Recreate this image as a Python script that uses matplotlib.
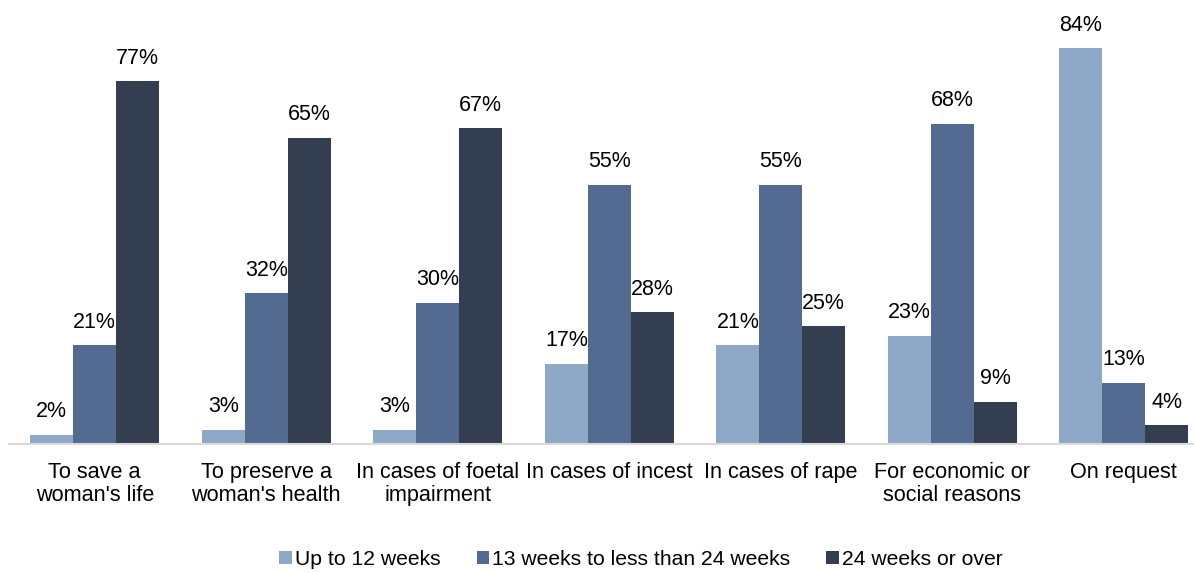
import numpy as np
import matplotlib.pyplot as plt

plt.rcParams['font.family'] = ['Liberation Sans', 'DejaVu Sans']

categories = ["To save a\nwoman's life", "To preserve a\nwoman's health",
              "In cases of foetal\nimpairment", "In cases of incest",
              "In cases of rape", "For economic or\nsocial reasons", "On request"]
series = ["Up to 12 weeks", "13 weeks to less than 24 weeks", "24 weeks or over"]
up_to_12 = [2, 3, 3, 17, 21, 23, 84]
weeks_13_24 = [21, 32, 30, 55, 55, 68, 13]
weeks_24_over = [77, 65, 67, 28, 25, 9, 4]
colors = ["#8EA9C8", "#536A91", "#333F50"]

fig = plt.figure(figsize=(11.94, 5.73), dpi=100)
ax = fig.add_axes([9 / 1194, 129 / 573, 1 - 9 / 1194, 424 / 573])

x = np.arange(len(categories))
w = 0.25
for i, (vals, name, c) in enumerate(zip([up_to_12, weeks_13_24, weeks_24_over], series, colors)):
    bars = ax.bar(x + (i - 1) * w, vals, w, color=c, label=name)
    for b, v in zip(bars, vals):
        ax.annotate(f"{v}%", (b.get_x() + b.get_width() / 2, v), xytext=(0, 9),
                    textcoords="offset points", ha="center", va="bottom", fontsize=15.5)

ax.set_xlim(-0.5, 6.41)
ax.set_ylim(0, 90)
ax.set_yticks([])
ax.set_xticks(x)
ax.set_xticklabels(categories, fontsize=15.6, linespacing=1.12)
ax.tick_params(axis="x", length=0, pad=13)
for s in ["top", "right", "left"]:
    ax.spines[s].set_visible(False)
ax.spines["bottom"].set_color("#D9D9D9")
ax.spines["bottom"].set_linewidth(1.5)

fig.legend(loc="lower center", bbox_to_anchor=(0.537, -0.026), ncol=3, frameon=False,
           fontsize=15.2, handlelength=0.6, handleheight=0.6, handletextpad=0.15,
           columnspacing=1.7)

fig.savefig("out.png", dpi=100)
